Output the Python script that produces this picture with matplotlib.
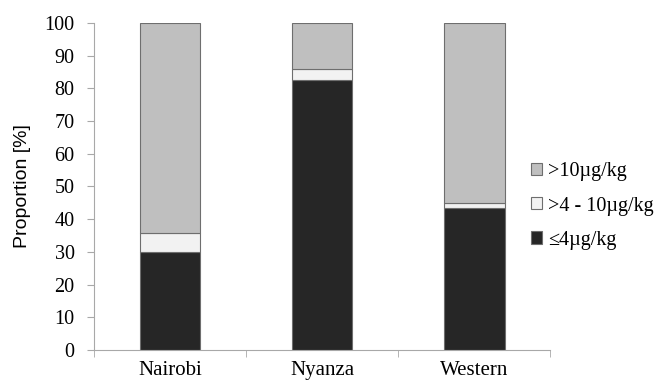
import matplotlib.pyplot as plt
import numpy as np

regions = ['Nairobi', 'Nyanza', 'Western']
low = [30.0, 82.6, 43.5]      # <=4 ug/kg
mid = [5.8, 3.4, 1.5]         # >4 - 10 ug/kg
high = [64.2, 14.0, 55.0]     # >10 ug/kg
labels = ['≤4µg/kg', '>4 - 10µg/kg', '>10µg/kg']
colors = ['#262626', '#f2f2f2', '#bfbfbf']

fig = plt.figure(figsize=(6.62, 3.82), dpi=100)
ax = fig.add_axes([0.142, 0.084, 0.689, 0.856])

x = np.arange(len(regions))
edge = '#6e6e6e'
b1 = ax.bar(x, low, 0.4, color=colors[0], edgecolor=edge, linewidth=0.8)
b2 = ax.bar(x, mid, 0.4, bottom=low, color=colors[1], edgecolor=edge, linewidth=0.8)
b3 = ax.bar(x, high, 0.4, bottom=np.add(low, mid), color=colors[2], edgecolor=edge, linewidth=0.8)

ax.set_xlim(-0.5, 2.5)
ax.set_ylim(0, 100)
ax.set_yticks(range(0, 101, 10))
ax.set_xticks(x)
ax.set_xticklabels(regions, family='Liberation Serif', fontsize=15)
ax.set_xticks(np.arange(-0.5, 3, 1), minor=True)
ax.tick_params(axis='x', which='major', length=0, pad=8)
ax.tick_params(axis='x', which='minor', length=5, color='#a8a8a8')
ax.tick_params(axis='y', length=5, color='#a8a8a8', pad=9)
for t in ax.get_yticklabels():
    t.set_family('Liberation Serif')
    t.set_fontsize(14.5)

for s in ['top', 'right']:
    ax.spines[s].set_visible(False)
for s in ['left', 'bottom']:
    ax.spines[s].set_color('#a8a8a8')

ax.set_ylabel('Proportion [%]', family='Liberation Sans', fontsize=14, labelpad=10)

ax.legend([b3, b2, b1], labels[::-1], loc='center left', bbox_to_anchor=(0.958, 0.44),
          frameon=False, borderpad=0, borderaxespad=0,
          prop={'family': 'Liberation Serif', 'size': 14.5},
          handlelength=0.55, handleheight=0.55, handletextpad=0.3, labelspacing=0.75)

fig.savefig('out.png', dpi=100)
